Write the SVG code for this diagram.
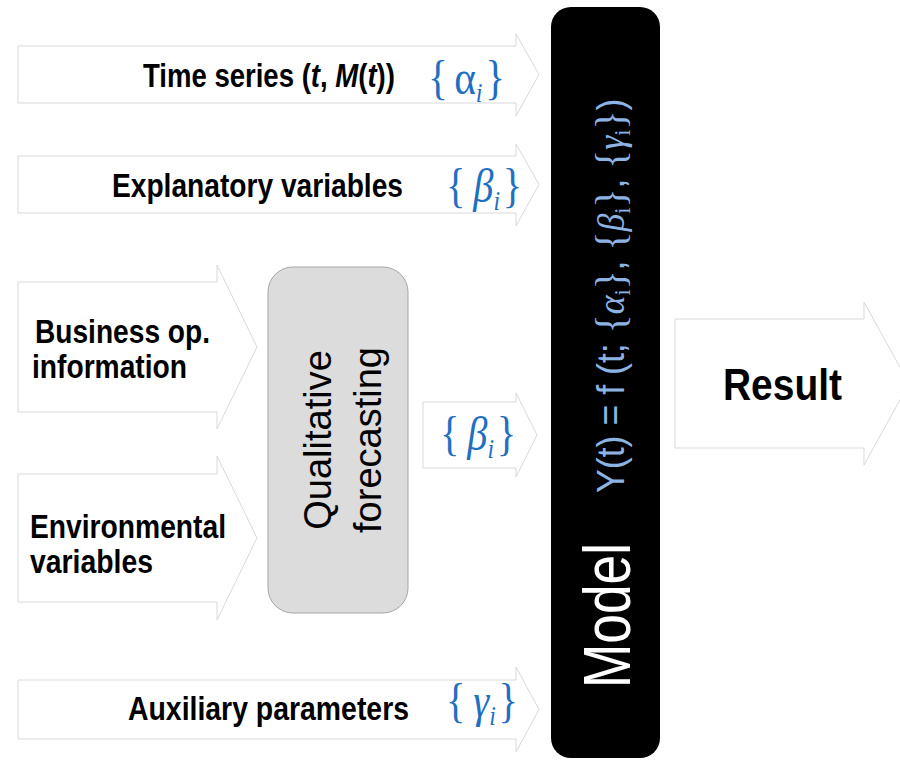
<svg xmlns="http://www.w3.org/2000/svg" width="900" height="764" viewBox="0 0 900 764">
<style>
.arr{fill:#ffffff;stroke:#d9d9d9;stroke-width:1}
.lbl{font-family:"Liberation Sans Narrow","Liberation Sans",Arial,sans-serif;font-weight:bold;font-size:34px;fill:#000000}
.grk{font-family:"Liberation Serif","DejaVu Serif",serif;font-size:46px;fill:#1f70c1}
.sub{font-size:27px;font-style:italic}
.qual{font-family:"Liberation Sans",Arial,sans-serif;font-size:38px;fill:#000000}
.model{font-family:"Liberation Sans",Arial,sans-serif;font-size:66px;fill:#ffffff}
.fml{font-family:"Liberation Sans",Arial,sans-serif;font-size:38px;fill:#8db3e2}
.fs{font-family:"Liberation Serif","DejaVu Serif",serif;font-size:42px}
.fg{font-family:"Liberation Serif","DejaVu Serif",serif;font-style:italic;font-size:38px}
.fsub{font-family:"Liberation Serif","DejaVu Serif",serif;font-size:24px}
</style>
<rect width="900" height="764" fill="#ffffff"/>
<g id="connectors"></g>
<g id="time-series">
<path class="arr" d="M18,46 H516 V34 L539,74.5 L516,116 V103 H18 Z"/>
<text class="lbl" transform="translate(143,87) scale(0.81,1)">Time series (<tspan font-style="italic">t</tspan>, <tspan font-style="italic">M</tspan>(<tspan font-style="italic">t</tspan>))</text>
<text class="grk" transform="translate(428,94) scale(0.9,1.05)">{<tspan dx="7">α</tspan><tspan class="sub" dy="8">i</tspan><tspan dx="3" dy="-8">}</tspan></text>
</g>
<g id="explanatory">
<path class="arr" d="M18,156 H516 V144 L539,184.5 L516,226 V213 H18 Z"/>
<text class="lbl" x="112" y="197" textLength="291" lengthAdjust="spacingAndGlyphs">Explanatory variables</text>
<text class="grk" transform="translate(446,202) scale(0.88,1.05)">{<tspan dx="9" font-style="italic">β</tspan><tspan class="sub" dy="8">i</tspan><tspan dx="3" dy="-8">}</tspan></text>
</g>
<g id="business">
<path class="arr" d="M18,282 H217 V265 L257,347 L217,429 V412 H18 Z"/>
<text class="lbl" x="35" y="343" textLength="175" lengthAdjust="spacingAndGlyphs">Business op.</text>
<text class="lbl" x="32" y="378" textLength="155" lengthAdjust="spacingAndGlyphs">information</text>
</g>
<g id="environmental">
<path class="arr" d="M18,474 H217 V456 L257,538 L217,620 V602 H18 Z"/>
<text class="lbl" x="30" y="538" textLength="196" lengthAdjust="spacingAndGlyphs">Environmental</text>
<text class="lbl" x="30" y="573" textLength="123" lengthAdjust="spacingAndGlyphs">variables</text>
</g>
<g id="qualitative">
<rect x="268" y="267" width="140" height="346" rx="25" ry="25" fill="#dcdcdc" stroke="#a6a6a6" stroke-width="1"/>
<text class="qual" transform="translate(331,440) rotate(-90)" text-anchor="middle">Qualitative</text>
<text class="qual" transform="translate(381,440) rotate(-90)" text-anchor="middle">forecasting</text>
</g>
<g id="beta-out">
<path class="arr" d="M423,402 H516 V393 L537,435 L516,477 V468 H423 Z"/>
<text class="grk" transform="translate(440,450) scale(0.88,1.05)">{<tspan dx="9" font-style="italic">β</tspan><tspan class="sub" dy="8">i</tspan><tspan dx="3" dy="-8">}</tspan></text>
</g>
<g id="auxiliary">
<path class="arr" d="M18,680 H516 V667 L539,709.5 L516,752 V739 H18 Z"/>
<text class="lbl" x="128" y="720" textLength="281" lengthAdjust="spacingAndGlyphs">Auxiliary parameters</text>
<text class="grk" transform="translate(446,717) scale(0.88,1.05)">{<tspan dx="9" font-style="italic">γ</tspan><tspan class="sub" dy="8">i</tspan><tspan dx="3" dy="-8">}</tspan></text>
</g>
<g id="model">
<rect x="551" y="7" width="109" height="751" rx="20" ry="20" fill="#000000"/>
<text class="model" x="0" y="0" transform="translate(630,688) rotate(-90)" textLength="145" lengthAdjust="spacingAndGlyphs">Model</text>
<text class="fml" transform="translate(624,493) rotate(-90) scale(0.94,1)">Y(t) = f (t; <tspan class="fs">{</tspan><tspan class="fg">α</tspan><tspan class="fsub" dy="6">i</tspan><tspan class="fs" dy="-6">}</tspan>, <tspan class="fs">{</tspan><tspan class="fg">β</tspan><tspan class="fsub" dy="6">i</tspan><tspan class="fs" dy="-6">}</tspan>, <tspan class="fs">{</tspan><tspan class="fg">γ</tspan><tspan class="fsub" dy="6">i</tspan><tspan class="fs" dy="-6">}</tspan>)</text>
</g>
<g id="result">
<path class="arr" d="M675,319 H864 V302 L909,383.5 L864,465 V448 H675 Z"/>
<text class="lbl" x="723" y="400" style="font-size:45px" textLength="119" lengthAdjust="spacingAndGlyphs">Result</text>
</g>
</svg>
